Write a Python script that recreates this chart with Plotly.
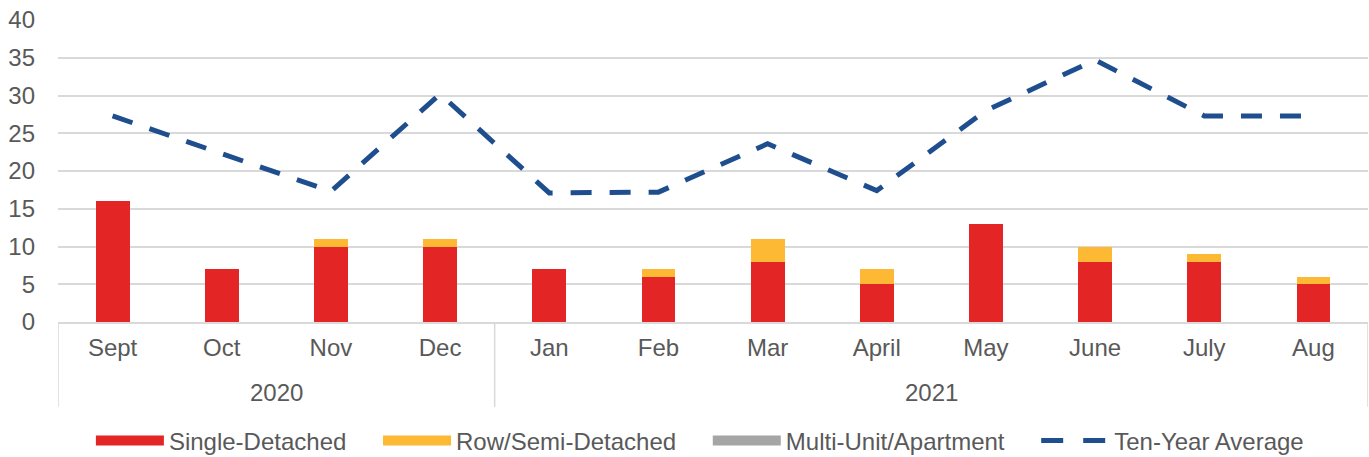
import plotly.graph_objects as go

years = ["2020"] * 4 + ["2021"] * 8
months = ["Sept", "Oct", "Nov", "Dec", "Jan", "Feb", "Mar", "April", "May", "June", "July", "Aug"]
single_detached = [16, 7, 10, 10, 7, 6, 8, 5, 13, 8, 8, 5]
row_semi = [0, 0, 1, 1, 0, 1, 3, 2, 0, 2, 1, 1]
multi_unit = [0, 0, 0, 0, 0, 0, 0, 0, 0, 0, 0, 0]
ten_year_avg = [27.3, 22.3, 17.3, 30.2, 17.1, 17.2, 23.6, 17.4, 28.0, 34.7, 27.3, 27.3]

RED = "#E32526"
YEL = "#FDB933"
GRY = "#A5A5A5"
BLU = "#1F4E8F"
TXT = "#595959"
LINE = "#D9D9D9"
FONT = "Liberation Sans, Arial, sans-serif"
FS = 24
PAD = "&nbsp;&nbsp;&nbsp;&nbsp;"
DASH = "21px,18px"

fig = go.Figure()
fig.add_trace(go.Bar(x=months, y=single_detached, name="Single-Detached", marker_color=RED,
                     marker_line_width=0, showlegend=False, legendgroup="a"))
fig.add_trace(go.Bar(x=months, y=row_semi, name="Row/Semi-Detached", marker_color=YEL,
                     marker_line_width=0, showlegend=False, legendgroup="b"))
fig.add_trace(go.Bar(x=months, y=multi_unit, name="Multi-Unit/Apartment", marker_color=GRY,
                     marker_line_width=0, showlegend=False, legendgroup="c"))
fig.add_trace(go.Scatter(x=months, y=ten_year_avg, name="Ten-Year Average", mode="lines",
                         line=dict(color=BLU, width=5, dash=DASH), showlegend=False,
                         legendgroup="d"))

# legend entries (wide swatches like the original)
for nm, col, grp in [("Single-Detached", RED, "a"), ("Row/Semi-Detached", YEL, "b"),
                     ("Multi-Unit/Apartment", GRY, "c")]:
    fig.add_trace(go.Scatter(x=[None], y=[None], mode="lines", name=nm + PAD, legendgroup=grp,
                             line=dict(color=col, width=13), showlegend=True))
fig.add_trace(go.Scatter(x=[None], y=[None], mode="lines", name="Ten-Year Average", legendgroup="d",
                         line=dict(color=BLU, width=5, dash="22px,20px"), showlegend=True))

# year group labels and dividers below the month labels
groups = []
for i, yr in enumerate(years):
    if not groups or groups[-1][0] != yr:
        groups.append([yr, i, i])
    else:
        groups[-1][2] = i
annotations = []
shapes = []
DIV_BOTTOM = -0.281
for yr, i0, i1 in groups:
    annotations.append(dict(x=(i0 + i1) / 2, y=-0.234, xref="x", yref="paper", text=yr,
                            showarrow=False, yanchor="middle",
                            font=dict(family=FONT, size=FS, color=TXT)))
    shapes.append(dict(type="line", xref="x", yref="paper", x0=i0 - 0.5, x1=i0 - 0.5,
                       y0=0, y1=DIV_BOTTOM, line=dict(color=LINE, width=1.5)))
shapes.append(dict(type="line", xref="x", yref="paper", x0=len(years) - 0.5, x1=len(years) - 0.5,
                   y0=0, y1=DIV_BOTTOM, line=dict(color=LINE, width=1.5)))

fig.update_layout(
    width=1369, height=457,
    margin=dict(l=58, r=1, t=20, b=135),
    paper_bgcolor="white", plot_bgcolor="white",
    barmode="stack", bargap=0.69,
    font=dict(family=FONT, size=FS, color=TXT),
    legend=dict(orientation="h", x=0.49, xanchor="center", y=0.035, yanchor="middle",
                yref="container",
                itemwidth=68, font=dict(size=FS, color=TXT), traceorder="normal"),
    xaxis=dict(type="category", showline=True, linecolor=LINE, linewidth=1.5,
               tickfont=dict(size=FS, color=TXT), showgrid=False, automargin=False,
               range=[-0.5, len(months) - 0.5], ticks="", ticklabelstandoff=3),
    yaxis=dict(range=[0, 40], dtick=5, showgrid=True, gridcolor=LINE, gridwidth=1.5,
               zeroline=False, showline=False, tickfont=dict(size=FS, color=TXT), ticks="",
               ticklabelstandoff=22, automargin=False),
    annotations=annotations,
    shapes=shapes,
)
fig.write_html("out.html", config={"displayModeBar": False},
               post_script="document.body.style.margin='0';document.body.style.overflow='hidden';")
